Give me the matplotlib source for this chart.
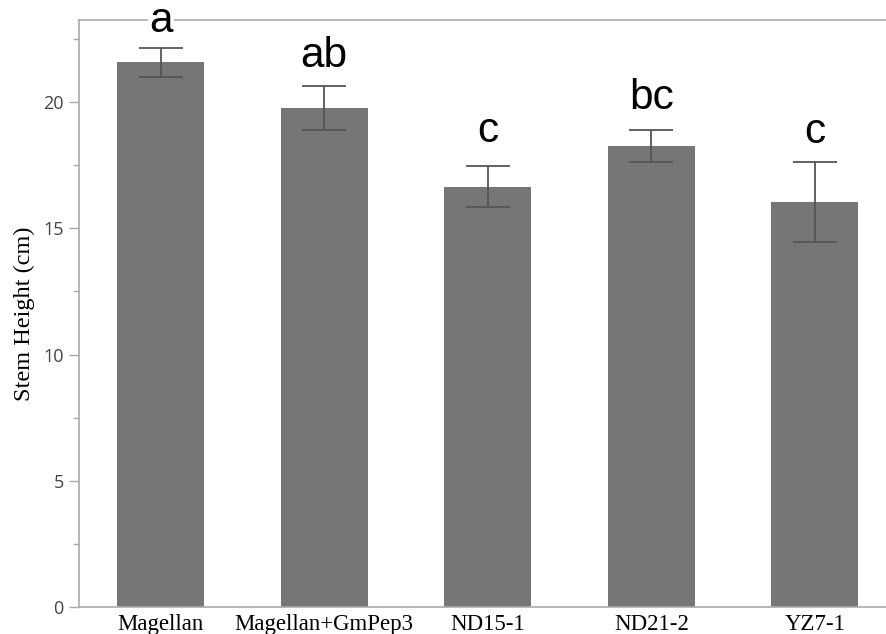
import matplotlib
matplotlib.use("Agg")
import matplotlib.pyplot as plt
from matplotlib.ticker import MultipleLocator

# stem height per line, mean and error
lines = ["Magellan", "Magellan+GmPep3", "ND15-1", "ND21-2", "YZ7-1"]
height = [21.58, 19.76, 16.65, 18.26, 16.04]
err = [0.58, 0.87, 0.82, 0.63, 1.6]
groups = ["a", "ab", "c", "bc", "c"]
group_y = [22.77, 21.37, 18.42, 19.72, 18.38]

fig = plt.figure(figsize=(8.86, 6.34), dpi=100)
ax = fig.add_axes([79 / 886, 27 / 634, 817.5 / 886, 587 / 634])

x = range(len(lines))
ax.bar(x, height, width=0.53, color="#767676", zorder=2)
ax.errorbar(x, height, yerr=err, fmt="none", ecolor="#555555",
            elinewidth=1.3, capsize=15.5, capthick=1.3, zorder=3)

for i, g in enumerate(groups):
    ax.text(i, group_y[i], g, ha="center", va="baseline", fontsize=30.5,
            family="Liberation Sans", zorder=6,
            bbox=dict(facecolor="white", edgecolor="none", pad=1.0))

ax.set_xlim(-0.5, 4.5)
ax.set_ylim(0, 23.25)
ax.yaxis.set_major_locator(MultipleLocator(5))
ax.yaxis.set_minor_locator(MultipleLocator(2.5))

for side in ["left", "bottom", "top"]:
    ax.spines[side].set_color("#aaaaaa")
    ax.spines[side].set_linewidth(1.2)
ax.spines["right"].set_visible(False)

ax.tick_params(axis="y", which="major", length=7, width=1, color="#aaaaaa",
               labelsize=13, labelcolor="#444444", pad=4)
ax.tick_params(axis="y", which="minor", length=4, width=1, color="#aaaaaa")
ax.tick_params(axis="x", length=0, pad=5)
for lab in ax.get_yticklabels():
    lab.set_family("Open Sans")

ax.set_xticks(list(x))
ax.set_xticklabels(lines, family="Liberation Serif", fontsize=16.5)
ax.set_ylabel("Stem Height (cm)", family="Liberation Serif", fontsize=17.5, labelpad=6)

fig.savefig("out.png", dpi=100)
